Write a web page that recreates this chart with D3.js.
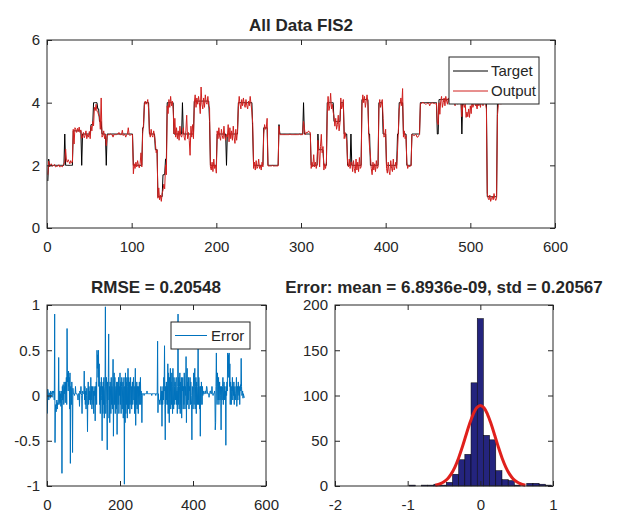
<!DOCTYPE html>
<html>
<head>
<meta charset="utf-8">
<script src="https://cdn.jsdelivr.net/npm/d3@7/dist/d3.min.js"></script>
<style>
body { margin: 0; background: #fff; }
text { font-family: "Liberation Sans", Arial, sans-serif; fill: #262626; }
.ax path.domain { display: none; }
.ax line { stroke: #262626; }
</style>
</head>
<body>
<script>
// target as run-length segments [value, count]
const targetSegs = [
  [1.5,1],[2.2,1],[2.0,18],[3.0,1],[2.0,9],[3.1,10],[2.0,1],[3.0,10],[3.3,3],[4.0,5],
  [3.8,2],[3.4,3],[3.0,5],[2.0,1],[3.0,31],[2.0,11],[3.2,2],[4.0,6],[3.0,7],[2.5,3],
  [1.0,6],[1.7,3],[2.2,2],[4.0,8],[3.0,10],[4.0,1],[3.0,13],[4.05,18],[3.4,1],[2.0,8],
  [3.0,11],[2.0,1],[3.0,13],[4.0,17],[3.0,1],[2.0,12],[3.2,5],[2.0,13],[3.3,1],[3.0,28],
  [4.0,1],[3.0,8],[2.0,8],[3.0,1],[2.5,6],[2.0,4],[4.0,8],[3.4,8],[4.0,4],[3.0,4],
  [2.0,4],[3.0,1],[2.0,12],[4.1,8],[3.0,2],[2.0,10],[4.0,5],[3.0,4],[2.0,13],[3.0,2],
  [4.0,5],[3.0,4],[2.0,6],[3.0,10],[4.0,20],[3.0,2],[4.1,27],[3.0,1],[4.0,29],[1.0,12],
  [4.0,11]
];

// error = target - output, one value per sample
const errorVals = [
  -0.2,0.07,0.05,0.0,-0.05,0.03,0.02,0.0,-0.03,0.05,0.04,0.02,0.03,-0.02,0.05,0.04,0.03,0.05,0.0,-0.05,
  0.9,-0.52,-0.15,-0.1,-0.18,-0.12,-0.05,-0.15,-0.08,-0.1,-0.05,0.42,-0.1,-0.05,0.05,-0.08,0.02,-0.12,0.05,-0.03,
  -0.86,0.1,-0.05,0.12,0.05,-0.1,0.15,0.02,0.1,-0.08,0.15,0.05,0.2,-0.1,0.74,0.15,0.25,0.05,0.27,0.1,
  0.2,-0.15,0.25,-0.75,0.1,0.05,-0.1,0.15,0.0,-0.63,0.08,0.02,0.02,0.02,0.0,0.02,0.02,0.1,0.02,0.02,
  0.02,0.02,0.0,0.0,-0.05,0.02,0.02,0.02,-0.12,0.05,0.02,0.02,0.1,0.02,0.0,-0.2,0.02,0.05,0.02,0.02,
  0.02,0.27,-0.05,0.1,-0.1,0.05,-0.15,0.0,0.08,-0.05,-0.4,0.05,0.15,-0.1,0.1,-0.05,0.05,0.0,-0.1,0.2,
  -0.05,0.1,-0.15,0.05,0.1,-0.1,0.05,-0.2,0.1,0.0,0.05,-0.28,0.1,-0.05,0.15,-0.1,0.5,0.3,0.45,0.2,
  0.5,0.1,0.35,-0.1,0.15,-0.2,0.1,-0.05,0.2,0.0,-0.5,0.1,-0.2,0.15,-0.1,0.2,-0.25,0.05,0.1,0.98,
  -0.2,0.1,0.2,-0.1,-0.6,0.15,-0.05,0.2,0.68,-0.25,0.1,-0.3,0.15,0.05,-0.2,0.2,-0.1,0.1,-0.15,0.05,
  0.4,-0.45,0.1,0.25,-0.1,0.2,-0.2,0.05,0.1,-0.15,0.15,-0.43,0.05,0.15,-0.1,0.2,-0.2,0.1,0.0,0.25,
  -0.1,0.15,-0.2,0.1,0.2,-0.15,0.05,0.15,-0.25,0.1,0.2,-0.98,0.1,-0.3,0.25,-0.2,0.15,-0.1,0.2,-0.25,
  0.1,0.3,-0.15,0.2,-0.1,0.15,-0.2,0.05,0.2,-0.1,0.1,-0.15,0.05,0.15,-0.1,0.1,0.2,-0.05,0.1,-0.2,
  0.05,0.3,-0.33,0.1,-0.1,0.15,-0.15,0.1,0.05,-0.2,0.1,0.0,0.15,-0.1,0.05,0.2,-0.1,0.05,0.0,-0.3,
  0.02,0.02,0.02,0.02,0.02,0.0,0.02,0.02,0.02,0.02,0.02,0.02,0.02,0.05,0.02,0.02,0.02,0.02,0.02,0.02,
  0.02,0.02,0.02,0.02,0.02,0.02,0.0,0.02,0.02,0.02,0.02,0.02,0.02,0.02,0.02,0.02,0.02,0.0,0.02,0.02,
  0.02,0.02,0.6,-0.19,0.02,-0.05,-0.05,-0.05,-0.1,-0.05,-0.05,0.1,-0.1,0.05,-0.34,0.05,-0.1,0.1,-0.05,0.2,
  0.05,0.55,-0.1,-0.49,0.1,-0.1,0.15,-0.05,0.1,-0.1,0.35,-0.2,0.25,0.1,-0.3,0.2,0.05,0.3,-0.15,0.15,
  -0.1,0.25,0.1,-0.2,0.3,0.05,-0.15,0.2,0.1,-0.1,0.15,-0.05,0.1,0.2,-0.1,0.05,-0.2,0.1,0.9,-0.1,
  0.2,-0.15,0.1,0.25,-0.2,0.15,-0.1,0.2,-0.25,0.1,0.05,0.2,-0.15,0.1,-0.1,0.25,0.05,-0.15,0.1,0.0,
  0.43,-0.3,0.1,0.3,-0.1,0.15,-0.05,0.2,-0.15,0.1,0.05,0.2,-0.1,0.15,0.0,-0.1,-0.49,0.1,0.05,-0.15,
  0.1,0.25,-0.1,0.2,0.3,-0.15,0.1,0.2,-0.2,0.15,0.05,-0.1,0.1,0.53,-0.1,0.2,0.05,-0.15,0.1,-0.45,
  0.1,-0.1,0.15,0.05,-0.1,0.1,0.0,0.05,0.02,0.02,0.02,0.02,0.05,0.05,0.02,0.02,0.1,0.1,0.05,0.02,
  0.02,0.02,0.02,-0.02,0.02,0.02,0.05,0.05,0.02,0.02,0.02,0.1,0.02,0.02,0.0,0.02,0.02,0.02,0.05,0.02,
  -0.38,-0.3,0.1,0.47,0.05,-0.1,0.25,0.1,-0.05,0.2,-0.1,0.05,0.15,-0.05,0.1,0.0,-0.38,0.1,0.05,-0.05,
  0.1,0.2,-0.1,0.05,0.15,-0.05,0.1,0.0,0.05,-0.55,0.1,0.0,0.15,0.05,0.47,0.3,0.45,0.2,0.47,0.1,
  0.35,-0.1,0.15,0.05,-0.1,0.1,0.05,0.2,-0.05,0.1,0.0,0.15,-0.1,0.05,0.1,-0.05,0.02,0.05,0.2,-0.12,
  0.05,0.1,-0.05,0.15,0.05,0.0,0.1,-0.1,0.05,0.12,0.05,0.41,0.1,0.0,0.02,0.05,-0.03,0.02,0.0,-0.02,
  -0.02,-0.02
];

// histogram of the error: first bin edge, bin width, counts
const histStart = -0.98;
const histWidth = 0.0852;
const histCounts = [1,0,1,1,2,1,4,13,29,35,114,185,56,51,17,7,6,1,0,3,3,2,1];

// fitted normal curve
const fitX = [-0.62,-0.55,-0.5,-0.45,-0.4,-0.35,-0.3,-0.25,-0.2,-0.15,-0.1,-0.05,0,0.05,0.1,0.15,0.2,0.25,0.3,0.35,0.4,0.45,0.5,0.55,0.62];
const fitY = [0.9,2.5,4.6,8.1,13.4,20.9,30.7,42.5,55.5,68.2,79,86.4,89,86.4,79,68.2,55.5,42.5,30.7,20.9,13.4,8.1,4.6,2.5,0.9];

const topXTicks = [0,100,200,300,400,500,600];
const topYTicks = [0,2,4,6];
const errXTicks = [0,200,400,600];
const errYTicks = [-1,-0.5,0,0.5,1];
const histXTicks = [-2,-1,0,1];
const histYTicks = [0,50,100,150,200];

const titles = ["All Data FIS2", "RMSE = 0.20548", "Error: mean = 6.8936e-09, std = 0.20567"];

const target = targetSegs.flatMap(([v, n]) => Array(n).fill(v));
const output = target.map((t, i) => t - errorVals[i]);

const width = 623, height = 514;
const svg = d3.select("body").append("svg")
    .attr("width", width)
    .attr("height", height);

// matlab style labels, plain hyphen for minus
const fmt = d => String(d);

// axes box with inward ticks on all four sides
function frame(x, y, xt, yt) {
    const g = svg.append("g").attr("class", "ax");
    const [x0, x1] = x.range(), [y0, y1] = y.range();
    g.append("g").attr("transform", `translate(0,${y0})`)
        .call(d3.axisBottom(x).tickValues(xt).tickFormat(fmt).tickSizeInner(-5).tickSizeOuter(0).tickPadding(13));
    g.append("g").attr("transform", `translate(0,${y1})`)
        .call(d3.axisTop(x).tickValues(xt).tickFormat("").tickSizeInner(-5).tickSizeOuter(0));
    g.append("g").attr("transform", `translate(${x0},0)`)
        .call(d3.axisLeft(y).tickValues(yt).tickFormat(fmt).tickSizeInner(-5).tickSizeOuter(0).tickPadding(7));
    g.append("g").attr("transform", `translate(${x1},0)`)
        .call(d3.axisRight(y).tickValues(yt).tickFormat("").tickSizeInner(-5).tickSizeOuter(0));
    g.selectAll("text").style("font-size", "15px").attr("fill", "#262626");
    g.append("rect")
        .attr("x", x0).attr("y", y1)
        .attr("width", x1 - x0).attr("height", y0 - y1)
        .attr("fill", "none").attr("stroke", "#262626").attr("stroke-width", 1);
    return g;
}

function title(txt, cx, cy) {
    svg.append("text")
        .attr("x", cx).attr("y", cy)
        .attr("text-anchor", "middle")
        .style("font-size", "17px")
        .style("font-weight", "bold")
        .attr("fill", "#000")
        .text(txt);
}

function clip(id, x, y) {
    svg.append("clipPath").attr("id", id).append("rect")
        .attr("x", x.range()[0]).attr("y", y.range()[1])
        .attr("width", x.range()[1] - x.range()[0])
        .attr("height", y.range()[0] - y.range()[1]);
}

// ---- top: target vs output
let x1 = d3.scaleLinear().domain([0, 600]).range([47, 555]);
let y1 = d3.scaleLinear().domain([0, 6]).range([228, 40]);
clip("c1", x1, y1);

let line1 = d3.line().x((d, i) => x1(i + 1)).y(d => y1(d));
svg.append("path").datum(target)
    .attr("clip-path", "url(#c1)")
    .attr("fill", "none").attr("stroke", "#000").attr("stroke-width", 1)
    .attr("d", line1);
svg.append("path").datum(output)
    .attr("clip-path", "url(#c1)")
    .attr("fill", "none").attr("stroke", "#d0201e").attr("stroke-width", 1)
    .attr("d", line1);
frame(x1, y1, topXTicks, topYTicks);
title(titles[0], 301, 31);

let leg1 = svg.append("g");
leg1.append("rect").attr("x", 449).attr("y", 57).attr("width", 90).attr("height", 47)
    .attr("fill", "#fff").attr("stroke", "#262626");
[["Target", "#000", 71], ["Output", "#d0201e", 91]].forEach(([t, c, yy]) => {
    leg1.append("line").attr("x1", 453).attr("x2", 488).attr("y1", yy).attr("y2", yy)
        .attr("stroke", c).attr("stroke-width", 1);
    leg1.append("text").attr("x", 491).attr("y", yy).attr("dy", "0.35em")
        .style("font-size", "15px").text(t);
});

// ---- bottom left: error series
let x2 = d3.scaleLinear().domain([0, 600]).range([47, 266]);
let y2 = d3.scaleLinear().domain([-1, 1]).range([486, 305]);
clip("c2", x2, y2);
svg.append("path").datum(errorVals)
    .attr("clip-path", "url(#c2)")
    .attr("fill", "none").attr("stroke", "#0072bd").attr("stroke-width", 1)
    .attr("d", d3.line().x((d, i) => x2(i + 1)).y(d => y2(d)));
frame(x2, y2, errXTicks, errYTicks);
title(titles[1], 156, 293);

let leg2 = svg.append("g");
leg2.append("rect").attr("x", 171).attr("y", 322).attr("width", 79).attr("height", 27)
    .attr("fill", "#fff").attr("stroke", "#262626");
leg2.append("line").attr("x1", 175).attr("x2", 207).attr("y1", 335.5).attr("y2", 335.5)
    .attr("stroke", "#0072bd");
leg2.append("text").attr("x", 211).attr("y", 335.5).attr("dy", "0.35em")
    .style("font-size", "15px").text("Error");

// ---- bottom right: histogram with normal fit
let x3 = d3.scaleLinear().domain([-2, 1]).range([335, 553]);
let y3 = d3.scaleLinear().domain([0, 200]).range([486, 305]);
svg.append("g").selectAll("rect")
    .data(histCounts)
    .enter()
    .append("rect")
        .attr("x", (d, i) => x3(histStart + i * histWidth))
        .attr("width", x3(histWidth) - x3(0))
        .attr("y", d => y3(d))
        .attr("height", d => y3(0) - y3(d))
        .attr("fill", "#24247e")
        .attr("stroke", "#000")
        .attr("stroke-width", 0.5);
svg.append("path").datum(fitX.map((v, i) => [v, fitY[i]]))
    .attr("fill", "none").attr("stroke", "#e0201c").attr("stroke-width", 3)
    .attr("d", d3.line().curve(d3.curveCatmullRom).x(d => x3(d[0])).y(d => y3(d[1])));
frame(x3, y3, histXTicks, histYTicks);
title(titles[2], 444, 293);
</script>
</body>
</html>
